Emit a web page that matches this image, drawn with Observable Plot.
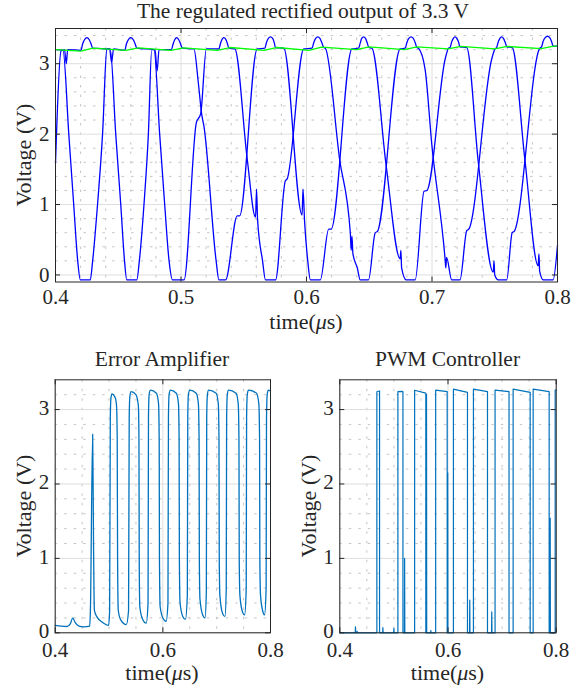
<!DOCTYPE html>
<html><head><meta charset="utf-8">
<script src="https://cdn.jsdelivr.net/npm/d3@7"></script>
<script src="https://cdn.jsdelivr.net/npm/@observablehq/plot@0.6"></script>
<style>
body{margin:0;background:#fff;}
#wrap{position:relative;width:585px;height:690px;font-family:"Liberation Serif",serif;color:#262626;overflow:hidden;}
#wrap svg{position:absolute;}
.lbl{position:absolute;white-space:nowrap;font-size:22px;line-height:1;transform:translate(-50%,-50%);}
.ttl{font-size:21.5px;}
.rot{transform:translate(-50%,-50%) rotate(-90deg);}
</style></head><body><div id="wrap"></div>
<script>
// ---------- tick values ----------
const timeTicksTop = [0.4, 0.5, 0.6, 0.7, 0.8];
const timeMinorTop = [0.42,0.44,0.46,0.48,0.52,0.54,0.56,0.58,0.62,0.64,0.66,0.68,0.72,0.74,0.76,0.78];
const voltTicks = [0, 1, 2, 3];
const voltMinorTop = [0.2,0.4,0.6,0.8,1.2,1.4,1.6,1.8,2.2,2.4,2.6,2.8,3.2,3.4];
const timeTicksBottom = [0.4, 0.6, 0.8];
const timeMinorBottom = [0.45,0.5,0.55,0.65,0.7,0.75];
const voltMinorBottom = [0.2,0.4,0.6,0.8,1.2,1.4,1.6,1.8,2.2,2.4,2.6,2.8,3.2];

// ---------- top panel: rectified phase voltages (time us, volts) ----------
const phaseA = [
[0.400,3.20],[0.406,3.19],[0.4106,2.0],[0.4145,1.0],[0.4177,0.2],[0.4198,-0.07],[0.4277,-0.07],
[0.4296,0.2],[0.4335,1.0],[0.4375,2.0],[0.4409,3.20],[0.4431,3.21],[0.4447,3.02],[0.4463,3.21],
[0.4552,3.19],[0.4565,3.28],[0.4580,3.34],[0.4600,3.37],[0.4620,3.34],[0.4635,3.28],[0.4648,3.22],
[0.4785,3.20],[0.4830,2.0],[0.4870,1.0],[0.4905,0.2],[0.4932,-0.07],[0.5024,-0.07],
[0.5122,2.16],[0.5157,2.29],[0.5202,3.21],
[0.5302,3.21],[0.5315,3.29],[0.5328,3.35],[0.5342,3.37],[0.5356,3.35],[0.5369,3.29],[0.5382,3.22],
[0.5429,3.21],[0.5528,1.64],[0.5594,0.82],[0.5602,1.22],[0.5610,0.79],[0.5650,0.2],[0.5673,-0.07],[0.5753,-0.07],
[0.5832,1.34],[0.5845,1.36],[0.5978,3.21],
[0.6044,3.22],[0.6058,3.30],[0.6073,3.36],[0.6090,3.38],[0.6107,3.36],[0.6122,3.30],[0.6137,3.23],
[0.6150,3.22],[0.6264,1.64],[0.6349,0.60],[0.6356,0.35],[0.6362,0.55],[0.6370,0.30],[0.6405,0.1],[0.6428,-0.07],[0.6494,-0.07],
[0.6548,0.60],[0.6566,0.62],[0.6746,3.21],
[0.6786,3.22],[0.6800,3.30],[0.6815,3.36],[0.6833,3.38],[0.6851,3.36],[0.6866,3.30],[0.6879,3.23],
[0.6892,3.22],[0.6945,2.92],[0.6998,1.86],[0.7104,0.23],[0.7110,0.10],[0.7116,0.25],[0.7157,-0.07],[0.7223,-0.07],
[0.7277,0.63],[0.7293,0.65],[0.7475,3.06],[0.7502,3.21],
[0.7515,3.23],[0.7528,3.31],[0.7541,3.36],[0.7555,3.38],[0.7569,3.36],[0.7582,3.31],[0.7597,3.24],
[0.7639,3.23],[0.7740,1.64],[0.7846,0.13],[0.7852,0.30],[0.7858,0.05],[0.7886,-0.07],[0.7965,-0.07],
[0.8000,0.42]
];
const phaseB = [
[0.4000,1.59],[0.4044,3.18],[0.4072,3.20],[0.4086,3.00],[0.4097,3.20],
[0.4203,3.19],[0.4216,3.28],[0.4231,3.34],[0.4250,3.37],[0.4269,3.34],[0.4284,3.28],[0.4296,3.22],
[0.4436,3.21],[0.4480,2.0],[0.4520,1.0],[0.4550,0.2],[0.4568,-0.07],[0.4648,-0.07],
[0.4668,0.2],[0.4705,1.0],[0.4740,2.0],[0.4767,3.20],[0.4793,3.20],[0.4810,2.90],[0.4825,3.20],
[0.4924,3.20],[0.4937,3.28],[0.4950,3.34],[0.4966,3.37],[0.4982,3.34],[0.4997,3.28],[0.5011,3.22],
[0.5103,3.21],[0.5138,2.73],[0.5165,2.28],[0.5183,2.11],[0.5280,0.2],[0.5302,-0.07],[0.5355,-0.07],
[0.5448,0.84],[0.5467,0.84],[0.5607,3.21],
[0.5668,3.22],[0.5681,3.30],[0.5696,3.36],[0.5713,3.38],[0.5730,3.36],[0.5743,3.30],[0.5753,3.23],
[0.5819,3.22],[0.5965,0.85],[0.5972,1.22],[0.5985,0.75],[0.6010,0.2],[0.6031,-0.07],[0.6110,-0.07],
[0.6177,0.65],[0.6196,0.65],[0.6362,3.21],
[0.6415,3.22],[0.6429,3.30],[0.6440,3.36],[0.6455,3.38],[0.6470,3.36],[0.6483,3.30],[0.6497,3.23],
[0.6521,3.22],[0.6635,1.55],[0.6746,0.23],[0.6752,0.35],[0.6758,0.10],[0.6794,-0.07],[0.6866,-0.07],
[0.6937,1.19],[0.6959,1.20],[0.7104,3.06],[0.7117,3.15],[0.7130,3.22],
[0.7144,3.23],[0.7157,3.31],[0.7170,3.36],[0.7184,3.38],[0.7198,3.36],[0.7211,3.31],[0.7223,3.24],
[0.7277,3.23],[0.7369,1.60],[0.7488,0.04],[0.7494,0.20],[0.7500,0.00],[0.7528,-0.07],[0.7595,-0.07],
[0.7639,0.60],[0.7655,0.62],[0.7859,3.22],
[0.7873,3.24],[0.7886,3.32],[0.7902,3.37],[0.7920,3.39],[0.7938,3.37],[0.7952,3.32],[0.7965,3.25],
[0.8000,3.25]
];
const outputV = [
[0.400,3.20],[0.420,3.18],[0.430,3.22],[0.456,3.19],[0.466,3.225],[0.492,3.19],[0.502,3.225],
[0.529,3.19],[0.539,3.23],[0.566,3.19],[0.576,3.23],[0.602,3.19],[0.612,3.235],[0.640,3.20],
[0.650,3.24],[0.678,3.20],[0.688,3.24],[0.713,3.21],[0.723,3.245],[0.750,3.21],[0.760,3.245],
[0.787,3.215],[0.797,3.25],[0.800,3.25]
];

// ---------- bottom left: error amplifier ----------
const errAmp = [
[0.400,0.10],[0.411,0.09],[0.422,0.085],[0.428,0.12],[0.4326,0.20],[0.437,0.14],[0.444,0.09],[0.453,0.08],[0.4641,0.09],
[0.4654,0.30],[0.4696,2.67],[0.4712,1.20],[0.4728,0.30],[0.4778,0.21],[0.488,0.14],[0.4993,0.10],
[0.5011,0.30],[0.5024,2.90],[0.5035,3.15],[0.5055,3.21],[0.5110,3.17],[0.5140,3.05],[0.5152,2.60],[0.5159,1.00],[0.5172,0.30],[0.5220,0.17],[0.5320,0.11],
[0.5363,0.30],[0.5375,2.90],[0.5388,3.18],[0.5410,3.24],[0.5500,3.20],[0.5545,3.05],[0.5556,2.60],[0.5561,1.00],[0.5572,0.35],[0.5620,0.19],[0.5691,0.13],
[0.5725,0.40],[0.5733,2.90],[0.5745,3.20],[0.5770,3.26],[0.5880,3.22],[0.5920,3.08],[0.5932,2.60],[0.5937,1.00],[0.5950,0.35],[0.6000,0.20],[0.6061,0.155],
[0.6095,0.40],[0.6104,2.90],[0.6116,3.20],[0.6140,3.26],[0.6250,3.22],[0.6290,3.08],[0.6302,2.60],[0.6307,1.00],[0.6320,0.40],[0.6370,0.22],[0.6419,0.18],
[0.6455,0.50],[0.6463,2.90],[0.6475,3.20],[0.6500,3.26],[0.6620,3.22],[0.6660,3.08],[0.6673,2.60],[0.6678,1.00],[0.6690,0.45],[0.6740,0.24],[0.6783,0.20],
[0.6808,0.55],[0.6815,2.90],[0.6828,3.20],[0.6850,3.26],[0.6990,3.22],[0.7030,3.08],[0.7043,2.60],[0.7048,1.00],[0.7060,0.50],[0.7110,0.26],[0.7154,0.22],
[0.7178,0.60],[0.7185,2.90],[0.7198,3.20],[0.7220,3.26],[0.7360,3.22],[0.7400,3.08],[0.7414,2.60],[0.7419,1.00],[0.7432,0.50],[0.7480,0.28],[0.7519,0.24],
[0.7549,0.60],[0.7556,2.90],[0.7569,3.20],[0.7590,3.26],[0.7740,3.22],[0.7783,3.08],[0.7797,2.60],[0.7802,1.00],[0.7815,0.50],[0.7860,0.28],[0.7889,0.24],
[0.7919,0.60],[0.7926,2.90],[0.7939,3.20],[0.7960,3.26],[0.8000,3.25]
];

// ---------- bottom right: PWM controller ----------
const pwm = [
[0.400,0],[0.4285,0],[0.4290,0.08],[0.4295,0],[0.4318,0],[0.4321,0.02],[0.4324,0],
[0.4685,0],[0.4685,3.24],[0.4735,3.25],[0.4735,0],
[0.4792,0],[0.4796,0.07],[0.4800,0],[0.4996,0],[0.5000,0.06],[0.5004,0],
[0.5074,0],[0.5074,3.24],[0.5160,3.245],[0.5167,3.24],[0.5167,0],
[0.5194,0],[0.5198,1.00],[0.5202,0],
[0.5383,0],[0.5383,3.26],[0.5590,3.22],[0.5590,0],[0.5600,0],[0.5603,3.20],[0.5606,0],
[0.5680,0],[0.5683,0.03],[0.5686,0],
[0.5772,0],[0.5772,3.26],[0.5985,3.24],[0.5985,0],[0.5992,0],[0.5995,2.15],[0.5998,0],
[0.6100,0],[0.6100,3.275],[0.6360,3.23],[0.6360,0],
[0.6398,0],[0.6402,0.44],[0.6406,0],
[0.6470,0],[0.6470,3.275],[0.6730,3.24],[0.6730,0],
[0.6805,0],[0.6809,0.28],[0.6813,0],
[0.6870,0],[0.6870,3.26],[0.7128,3.24],[0.7128,0],
[0.7204,0],[0.7204,3.275],[0.7519,3.23],[0.7519,0],
[0.7574,0],[0.7574,3.275],[0.7870,3.24],[0.7870,0],
[0.7885,0],[0.7889,1.54],[0.7893,0],
[0.7981,0],[0.7981,3.26],[0.8000,3.26]
];

const FONT = "Liberation Serif";
const AX = "#262626";

function panel({width, height, ml, mr, mt, mb, yDomain, xTicks, xMinor, yMinor, lines, xPad, yDy}) {
  const innerW = width - ml - mr, innerH = height - mt - mb;
  return Plot.plot({
    width, height, marginLeft: ml, marginRight: mr, marginTop: mt, marginBottom: mb,
    x: {domain: [0.4, 0.8]},
    y: {domain: yDomain},
    style: {fontFamily: FONT, fontSize: "21px", color: AX, background: "transparent", overflow: "visible"},
    marks: [
      Plot.gridX(xMinor, {stroke: "#bdbdbd", strokeOpacity: 1, strokeDasharray: "2.5,7", strokeWidth: 0.9}),
      Plot.gridY(yMinor, {stroke: "#bdbdbd", strokeOpacity: 1, strokeDasharray: "2.5,7", strokeWidth: 0.9}),
      Plot.gridX(xTicks, {stroke: "#dedede", strokeOpacity: 1, strokeWidth: 1}),
      Plot.gridY(voltTicks, {stroke: "#dedede", strokeOpacity: 1, strokeWidth: 1}),
      ...lines,
      Plot.tickX(xTicks, {insetTop: innerH - 5, stroke: AX}),
      Plot.tickX(xTicks, {insetBottom: innerH - 5, stroke: AX}),
      Plot.tickY(voltTicks, {insetRight: innerW - 5, stroke: AX}),
      Plot.tickY(voltTicks, {insetLeft: innerW - 5, stroke: AX}),
      Plot.frame({stroke: AX, strokeWidth: 1}),
      Plot.axisX(xTicks, {tickSize: 0, tickPadding: xPad, label: null, tickFormat: d3.format(".1f"), fontSize: 21}),
      Plot.axisY(voltTicks, {tickSize: 0, tickPadding: 6, dy: yDy, label: null, tickFormat: d => String(d), fontSize: 21})
    ]
  });
}

const wrap = document.getElementById("wrap");

const top1 = panel({
  width: 585, height: 340, ml: 55, mr: 28, mt: 28, mb: 58.5,
  yDomain: [-0.1, 3.5], xTicks: timeTicksTop, xMinor: timeMinorTop, yMinor: voltMinorTop,
  xPad: 7.5, yDy: 0,
  lines: [
    Plot.line(phaseA, {x: "0", y: "1", stroke: "#0000ff", strokeWidth: 1.3, curve: "monotone-x"}),
    Plot.line(phaseB, {x: "0", y: "1", stroke: "#0000ff", strokeWidth: 1.3, curve: "monotone-x"}),
    Plot.line(outputV, {x: "0", y: "1", stroke: "#00ff00", strokeWidth: 1.3})
  ]
});
top1.style.left = "0px"; top1.style.top = "0px";
wrap.appendChild(top1);

const bl = panel({
  width: 292, height: 350, ml: 54.7, mr: 22, mt: 39.3, mb: 57.7,
  yDomain: [0, 3.4], xTicks: timeTicksBottom, xMinor: timeMinorBottom, yMinor: voltMinorBottom,
  xPad: 9, yDy: -1.5,
  lines: [Plot.line(errAmp, {x: "0", y: "1", stroke: "#0072bd", strokeWidth: 1.3, curve: "monotone-x"})]
});
bl.style.left = "0px"; bl.style.top = "340px";
wrap.appendChild(bl);

const br = panel({
  width: 293, height: 350, ml: 47.3, mr: 29.3, mt: 39.3, mb: 57.7,
  yDomain: [0, 3.4], xTicks: timeTicksBottom, xMinor: timeMinorBottom, yMinor: voltMinorBottom,
  xPad: 9, yDy: -1.5,
  lines: [Plot.line(pwm, {x: "0", y: "1", stroke: "#0072bd", strokeWidth: 1.2})]
});
br.style.left = "292px"; br.style.top = "340px";
wrap.appendChild(br);

function label(html, x, y, cls) {
  const d = document.createElement("div");
  d.className = "lbl" + (cls ? " " + cls : "");
  d.innerHTML = html;
  d.style.left = x + "px"; d.style.top = y + "px";
  wrap.appendChild(d);
}
label("The regulated rectified output of 3.3 V", 303, 12, "ttl");
label("time(<i>μ</i>s)", 306, 322);
label("Voltage (V)", 24, 155, "rot");
label("Error Amplifier", 162, 360, "ttl");
label("time(<i>μ</i>s)", 162, 673);
label("Voltage (V)", 24, 506, "rot");
label("PWM Controller", 447.5, 360, "ttl");
label("time(<i>μ</i>s)", 447.5, 673);
label("Voltage (V)", 309, 506, "rot");
</script>
</body></html>
